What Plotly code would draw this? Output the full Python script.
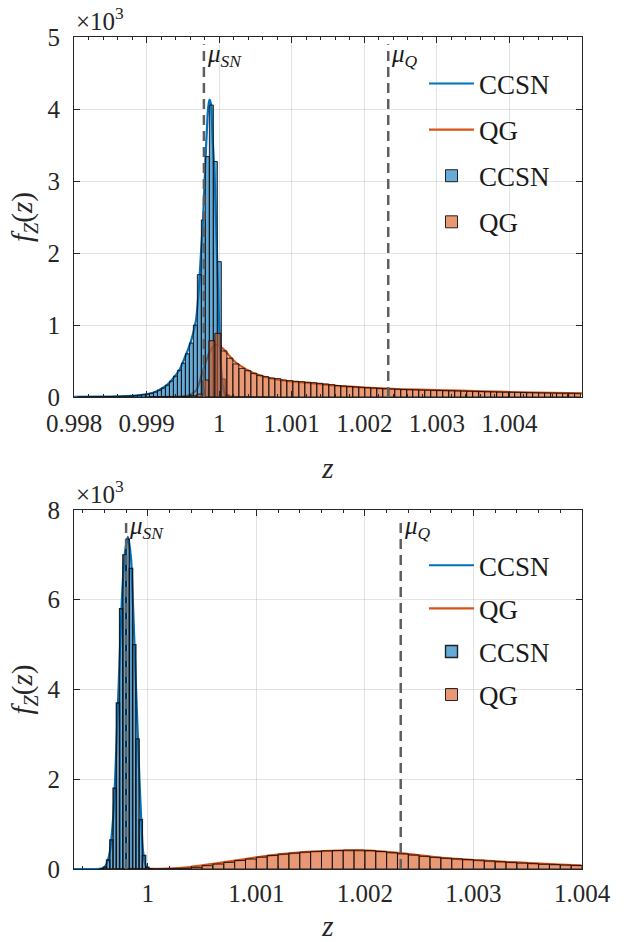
import plotly.graph_objects as go

# ---------------- data ----------------
top_ccsn_pdf_z = [0.99800, 0.99836, 0.99863, 0.99884, 0.99899, 0.99909, 0.99918, 0.99928,
                  0.99936, 0.99946, 0.99954, 0.99960, 0.99964, 0.99968, 0.99972, 0.99975,
                  0.99978, 0.99980, 0.99984, 0.99986, 0.99987, 0.99989, 0.99991, 0.99994,
                  0.99997, 1.00000, 1.00002, 1.00005, 1.00008, 1.00015, 1.00077]
top_ccsn_pdf_f = [2, 4, 9, 18, 38, 60, 100, 165,
                  250, 390, 580, 740, 880, 1060, 1500, 2000,
                  2500, 3000, 3900, 4100, 4130, 4050, 3600, 3000,
                  2000, 1000, 500, 160, 40, 5, 0]

top_qg_pdf_z = [0.99905, 0.99946, 0.99960, 0.99969, 0.99978, 0.99985, 0.99992, 0.99997,
                1.00006, 1.00013, 1.00019, 1.00029, 1.00038, 1.00047, 1.00061, 1.00075,
                1.00093, 1.00111, 1.00139, 1.00162, 1.00208, 1.00253, 1.00300, 1.00332,
                1.00396, 1.00500]
top_qg_pdf_f = [0, 5, 30, 100, 375, 583, 700, 722,
                665, 585, 515, 435, 380, 335, 285, 250,
                222, 205, 180, 155, 128, 108, 96, 88,
                70, 51]

top_ccsn_hist_start = 0.99805
top_ccsn_hist_width = 0.000055
top_ccsn_hist = [2, 2, 3, 3, 4, 4, 5, 6, 7, 8, 9, 11, 13, 16, 20, 25, 32,
                 40, 52, 70, 95, 125, 165, 220, 290, 370, 470, 600, 750,
                 1000, 1700, 2460, 3340, 4055, 3270, 1880, 250, 30, 6, 3,
                 2, 1, 1, 1, 0, 0, 0]

top_qg_hist_start = 0.999033
top_qg_hist_width = 0.0000826
top_qg_hist = [0, 1, 1, 2, 3, 5, 9, 18, 40,
               236, 782, 884, 640, 540, 460, 398, 366, 329, 301, 282, 264, 255,
               236, 227, 218, 212, 205, 198, 190, 180, 170, 160, 152, 146, 140,
               135, 130, 125, 120, 116, 112, 108, 105, 102, 100, 97, 95, 93, 91,
               89, 87, 85, 83, 80, 78, 76, 74, 72, 70, 68, 66, 65, 63, 61, 60,
               58, 57, 55, 54, 53, 52, 51]

top_mu_sn = 0.99979
top_mu_q = 1.00233

top_x_ticks = [0.998, 0.999, 1.000, 1.001, 1.002, 1.003, 1.004]
top_x_ticktext = ["0.998", "0.999", "1", "1.001", "1.002", "1.003", "1.004"]
top_y_ticks = [0, 1000, 2000, 3000, 4000, 5000]
top_y_ticktext = ["0", "1", "2", "3", "4", "5"]

bot_ccsn_pdf_z = [0.99932, 0.999561, 0.999598, 0.999626, 0.999653, 0.999681, 0.999699,
                  0.999730, 0.999761, 0.999787, 0.999816, 0.999846, 0.999862, 0.999892,
                  0.999923, 0.999943, 0.999954, 0.999971, 0.999991, 1.000021]
bot_ccsn_pdf_f = [0, 5, 30, 150, 430, 1150, 2000,
                  4000, 6000, 7000, 7400, 6900, 6000, 4000,
                  2000, 900, 450, 150, 20, 0]

bot_qg_pdf_z = [0.99970, 1.000000, 1.000113, 1.000233, 1.000389, 1.000546, 1.000693,
                1.000849, 1.001006, 1.001153, 1.001309, 1.001466, 1.001613, 1.001769,
                1.001907, 1.002045, 1.002201, 1.002413, 1.002569, 1.002717, 1.002873,
                1.003029, 1.003176, 1.003333, 1.003489, 1.003655, 1.003793, 1.003995]
bot_qg_pdf_f = [0, 1, 3, 13, 45, 96, 148,
                205, 262, 310, 350, 380, 400, 412,
                415, 410, 385, 330, 285, 250, 220,
                195, 175, 155, 138, 115, 100, 82]

bot_ccsn_hist_start = 0.99956
bot_ccsn_hist_width = 0.00003
bot_ccsn_hist = [8, 40, 200, 650, 1800, 3700, 5800, 7000, 7350, 6700, 5000, 2900,
                 1100, 300, 40, 3]

bot_qg_hist_start = 1.0000
bot_qg_hist_width = 0.0001
bot_qg_hist = [1, 2, 7, 16, 36, 74, 111, 148, 190, 223, 265, 302, 332, 355, 376,
               392, 405, 412, 418, 420, 410, 390, 362, 337, 311, 284, 260, 240,
               225, 210, 196, 178, 162, 148, 133, 120, 107, 98, 88, 78]

bot_mu_sn = 0.99980
bot_mu_q = 1.00233

bot_x_ticks = [1.000, 1.001, 1.002, 1.003, 1.004]
bot_x_ticktext = ["1", "1.001", "1.002", "1.003", "1.004"]
bot_y_ticks = [0, 2000, 4000, 6000, 8000]
bot_y_ticktext = ["0", "2", "4", "6", "8"]

series_names = ["CCSN", "QG"]

# ---------------- styling ----------------
BLUE = "#0072BD"
ORANGE = "#D95319"
BLUE_FILL = "rgba(0,114,189,0.6)"
ORANGE_FILL = "rgba(217,83,25,0.6)"
EDGE = "rgba(15,15,15,0.9)"
FONT = "Liberation Serif"
AXC = "#262626"
TXT = "#1a1a1a"

fig = go.Figure()


def add_panel(xa, ya, ya_over, leg, ccsn_z, ccsn_f, qg_z, qg_f,
              c_start, c_w, c_h, q_start, q_w, q_h, c_edge_w):
    fig.add_trace(go.Scatter(x=ccsn_z, y=ccsn_f, mode="lines", name=series_names[0],
                             line=dict(color=BLUE, width=2.2, shape="spline", smoothing=0.5),
                             xaxis=xa, yaxis=ya, legend=leg, legendgroup=leg + "a"))
    fig.add_trace(go.Scatter(x=qg_z, y=qg_f, mode="lines", name=series_names[1],
                             line=dict(color=ORANGE, width=2.2, shape="spline", smoothing=0.5),
                             xaxis=xa, yaxis=ya, legend=leg, legendgroup=leg + "b"))
    fig.add_trace(go.Bar(x0=c_start, dx=c_w, y=c_h, width=c_w, offset=0,
                         name=series_names[0],
                         marker=dict(color=BLUE_FILL, line=dict(color=EDGE, width=c_edge_w)),
                         xaxis=xa, yaxis=ya_over, legend=leg, legendgroup=leg + "c"))
    fig.add_trace(go.Bar(x0=q_start, dx=q_w, y=q_h, width=q_w, offset=0,
                         name=series_names[1],
                         marker=dict(color=ORANGE_FILL, line=dict(color=EDGE, width=1)),
                         xaxis=xa, yaxis=ya_over, legend=leg, legendgroup=leg + "d"))


add_panel("x", "y", "y3", "legend", top_ccsn_pdf_z, top_ccsn_pdf_f, top_qg_pdf_z, top_qg_pdf_f,
          top_ccsn_hist_start, top_ccsn_hist_width, top_ccsn_hist,
          top_qg_hist_start, top_qg_hist_width, top_qg_hist, 1)
add_panel("x2", "y2", "y4", "legend2", bot_ccsn_pdf_z, bot_ccsn_pdf_f, bot_qg_pdf_z, bot_qg_pdf_f,
          bot_ccsn_hist_start, bot_ccsn_hist_width, bot_ccsn_hist,
          bot_qg_hist_start, bot_qg_hist_width, bot_qg_hist, 1.4)

tickfont = dict(family=FONT, size=25, color=AXC)
titlefont = dict(family=FONT, size=29, color=AXC)


def xaxis_cfg(anchor, rng, tv, tt, lab_off, title_off):
    return dict(anchor=anchor, domain=[0, 1], range=rng, tickmode="array", tickvals=tv,
                ticktext=tt, ticks="inside", ticklen=6, tickcolor=AXC, mirror="ticks",
                showline=True, linecolor=AXC, linewidth=1, showgrid=True,
                gridcolor="rgba(38,38,38,0.13)", gridwidth=1, zeroline=False,
                tickfont=tickfont, ticklabelstandoff=lab_off, automargin=False,
                minor=dict(ticks="inside", ticklen=3, tickcolor=AXC, tickmode="linear",
                           tick0=0.998, dtick=0.0002, showgrid=False),
                title=dict(text="<i>z</i>", font=titlefont, standoff=title_off))


def yaxis_cfg(anchor, dom, rng, tv, tt):
    return dict(anchor=anchor, domain=dom, range=rng, tickmode="array", tickvals=tv,
                ticktext=tt, ticks="inside", ticklen=6, tickcolor=AXC, mirror="ticks",
                showline=True, linecolor=AXC, linewidth=1, showgrid=True,
                gridcolor="rgba(38,38,38,0.13)", gridwidth=1, zeroline=False,
                tickfont=tickfont, ticklabelstandoff=8, automargin=False,
                title=dict(text="<i>f</i><sub><i>Z</i></sub>(<i>z</i>)", font=titlefont,
                           standoff=6))


top_dom = [0.5673, 1.0]
bot_dom = [0.0, 0.4315]

legend_font = dict(family=FONT, size=27, color=TXT)

fig.update_layout(
    width=639, height=942,
    margin=dict(l=74, r=57, t=37, b=73, autoexpand=False),
    paper_bgcolor="white", plot_bgcolor="white",
    barmode="overlay",
    xaxis=xaxis_cfg("y", [0.998, 1.005], top_x_ticks, top_x_ticktext, 4, 21),
    yaxis=yaxis_cfg("x", top_dom, [0, 5000], top_y_ticks, top_y_ticktext),
    yaxis3=dict(overlaying="y", anchor="x", range=[0, 5000], visible=False),
    xaxis2=xaxis_cfg("y2", [0.99932, 1.004], bot_x_ticks, bot_x_ticktext, 2, 10),
    yaxis2=yaxis_cfg("x2", bot_dom, [0, 8000], bot_y_ticks, bot_y_ticktext),
    yaxis4=dict(overlaying="y2", anchor="x2", range=[0, 8000], visible=False),
    legend=dict(x=0.689, y=0.973, xanchor="left", yanchor="top", bgcolor="rgba(0,0,0,0)",
                font=legend_font, traceorder="grouped", tracegroupgap=8, itemwidth=45),
    legend2=dict(x=0.689, y=0.394, xanchor="left", yanchor="top", bgcolor="rgba(0,0,0,0)",
                 font=legend_font, traceorder="grouped", tracegroupgap=5, itemwidth=45),
    showlegend=True,
)

for xa, mus, labels in [("x", [top_mu_sn, top_mu_q], ["SN", "Q"]),
                        ("x2", [bot_mu_sn, bot_mu_q], ["SN", "Q"])]:
    ya = "y" if xa == "x" else "y2"
    for mu, lab in zip(mus, labels):
        fig.add_shape(type="line", xref=xa, yref=ya + " domain", x0=mu, x1=mu, y0=0, y1=0.98,
                      line=dict(color="#5f5f5f", width=2.5, dash="10px,6px"), layer="above")
        fig.add_annotation(xref=xa, yref=ya + " domain", x=mu, y=0.95, xanchor="left",
                           yanchor="middle", xshift=1, showarrow=False,
                           text="<i>μ</i><sub><i>" + lab + "</i></sub>",
                           font=dict(family=FONT, size=25, color=TXT))

for ya in ["y", "y2"]:
    fig.add_annotation(xref="x domain" if ya == "y" else "x2 domain", yref=ya + " domain",
                       x=0, y=1, xanchor="left", yanchor="bottom", showarrow=False,
                       text="×10<sup>3</sup>", font=dict(family=FONT, size=25, color=AXC))

fig.write_html("out.html", config={"displayModeBar": False},
               post_script="document.body.style.margin='0px';")
